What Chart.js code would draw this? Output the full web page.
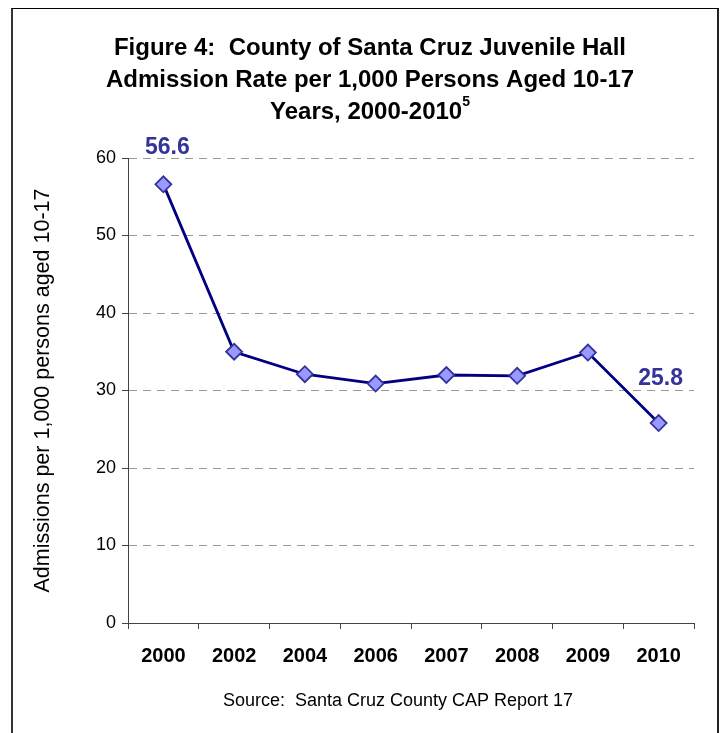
<!DOCTYPE html>
<html>
<head>
<meta charset="utf-8">
<script src="https://cdn.jsdelivr.net/npm/chart.js@4.4.1/dist/chart.umd.min.js"></script>
<style>
  html, body { margin: 0; padding: 0; background: #fff; }
  .frame { position: absolute; left: 11px; top: 8px; width: 704px; height: 740px;
           border-left: 2px solid #333; border-top: 1px solid #000; border-right: 2px solid #222; }
  #chart { position: absolute; left: 0; top: 0; }
</style>
</head>
<body>
<div class="frame"></div>
<canvas id="chart" width="720" height="733"></canvas>
<script>
// Admission rate per 1,000 persons aged 10-17
const years = ["2000", "2002", "2004", "2006", "2007", "2008", "2009", "2010"];
const rates = [56.6, 35.0, 32.1, 30.9, 32.0, 31.9, 34.9, 25.8];
const labelledPoints = [0, 7];
const yTicks = [0, 10, 20, 30, 40, 50, 60];

const titleLines = ["Figure 4:  County of Santa Cruz Juvenile Hall",
                    "Admission Rate per 1,000 Persons Aged 10-17",
                    "Years, 2000-2010"];
const titleNote = "5";
const sourceText = "Source:  Santa Cruz County CAP Report 17";
const FONT = "'Liberation Sans', Arial, sans-serif";

// where each value label sits relative to its point
const labelShift = { 0: [4, -37], 7: [2, -44] };

// title, footnote and the two value labels are painted by hand
const decor = {
  id: "decor",
  afterDraw(chart) {
    const ctx = chart.ctx;
    ctx.save();
    ctx.fillStyle = "#000";
    ctx.textAlign = "center";
    ctx.textBaseline = "middle";
    ctx.font = "bold 24px " + FONT;
    const cx = 370;
    const ys = [48, 80, 112];
    titleLines.forEach((t, i) => {
      if (i < titleLines.length - 1) {
        ctx.fillText(t, cx, ys[i]);
      } else {
        const w = ctx.measureText(t).width;
        ctx.font = "bold 14px " + FONT;
        const sw = ctx.measureText(titleNote).width;
        const x0 = cx - (w + sw) / 2;
        ctx.textAlign = "left";
        ctx.font = "bold 24px " + FONT;
        ctx.fillText(t, x0, ys[i]);
        ctx.font = "bold 14px " + FONT;
        ctx.fillText(titleNote, x0 + w, ys[i] - 10);
      }
    });

    ctx.textAlign = "center";
    ctx.font = "18px " + FONT;
    ctx.fillText(sourceText, 398, 701);

    const meta = chart.getDatasetMeta(0);
    ctx.fillStyle = "#333399";
    ctx.font = "bold 23px " + FONT;
    labelledPoints.forEach(i => {
      const p = meta.data[i];
      const [dx, dy] = labelShift[i];
      ctx.fillText(rates[i].toFixed(1), p.x + dx, p.y + dy);
    });
    ctx.restore();
  }
};

new Chart(document.getElementById("chart"), {
  type: "line",
  data: {
    labels: years,
    datasets: [{
      data: rates,
      borderColor: "#000080",
      borderWidth: 2.8,
      tension: 0,
      pointStyle: "rectRot",
      pointRadius: 8,
      pointHoverRadius: 8,
      pointBackgroundColor: "#9999FF",
      pointBorderColor: "#333399",
      pointBorderWidth: 1.8
    }]
  },
  options: {
    responsive: false,
    animation: false,
    layout: { padding: { top: 158, right: 26, left: 26, bottom: 0 } },
    plugins: { legend: { display: false }, tooltip: { enabled: false } },
    scales: {
      x: {
        offset: true,
        grid: { offset: true, drawOnChartArea: false, tickLength: 6, color: "#444", tickColor: "#444" },
        border: { color: "#444", width: 1 },
        ticks: { color: "#000", padding: 15, font: { family: FONT, size: 20, weight: "bold" } },
        afterFit(s) { s.height = 110; }
      },
      y: {
        min: 0,
        max: 60,
        afterBuildTicks(s) { s.ticks = yTicks.map(v => ({ value: v })); },
        grid: { color: "#9a9a9a", tickLength: 6, tickColor: "#444", tickBorderDash: [] },
        border: { color: "#444", width: 1, dash: [8, 6] },
        ticks: { color: "#000", padding: 6, font: { family: FONT, size: 18 } },
        title: { display: true, text: "Admissions per 1,000 persons aged 10-17", color: "#000",
                 font: { family: FONT, size: 21.5 }, padding: 4 },
        afterFit(s) { s.width = 102; }
      }
    }
  },
  plugins: [decor]
});
</script>
</body>
</html>
